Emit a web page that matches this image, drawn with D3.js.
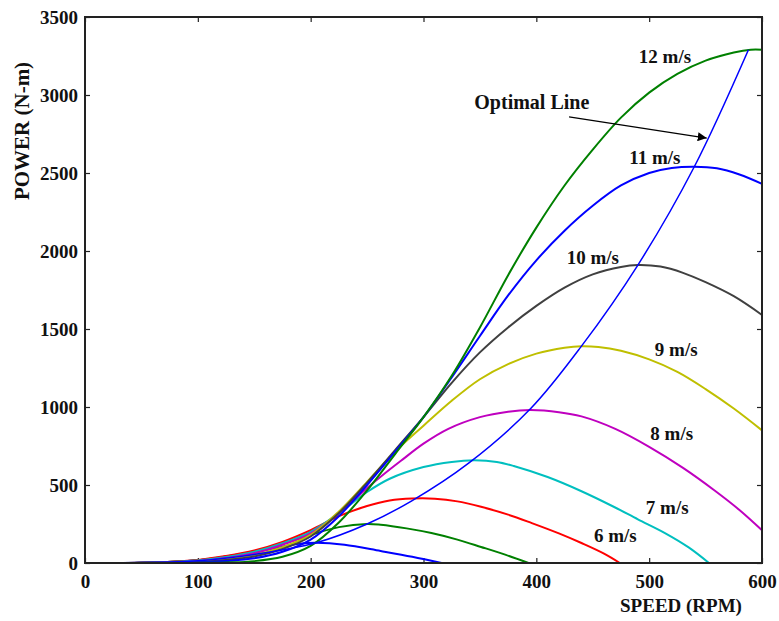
<!DOCTYPE html>
<html>
<head>
<meta charset="utf-8">
<script src="https://cdn.jsdelivr.net/npm/d3@7"></script>
<style>
  body { margin: 0; background: #fff; }
  svg text { font-family: "Liberation Serif", "Times New Roman", serif; font-weight: bold; fill: #111; }
</style>
</head>
<body>
<div id="chart"></div>
<script>
//=============================data============================
// each curve: [speed (RPM), power]
var ws4  = [[10,0],[50,2],[100,18],[125,40],[150,68],[175,105],[190,124],[205,130],[230,117],[262,77],[290,40],[316,0]];
var ws5  = [[10,0],[50,2],[100,18],[125,42],[150,74],[175,122],[200,180],[225,230],[250,250],[262,245],[285,222],[307,192],[330,150],[351,103],[373,52],[393,0]];
var ws6  = [[10,0],[50,2],[100,20],[125,45],[150,80],[175,135],[200,210],[225,300],[250,365],[270,400],[290,413],[310,412],[330,395],[351,360],[375,310],[396,256],[420,190],[440,128],[460,60],[474,0]];
var ws7  = [[10,0],[50,2],[100,16],[125,38],[150,72],[175,127],[200,200],[225,320],[250,455],[270,540],[300,615],[325,648],[345,658],[365,648],[380,622],[410,551],[440,460],[469,359],[490,280],[514,192],[535,100],[553,0]];
var ws8  = [[10,0],[50,1],[100,12],[125,32],[150,62],[175,117],[200,190],[225,320],[250,480],[265,570],[280,655],[300,765],[322,860],[350,935],[375,970],[395,980],[420,967],[440,940],[470,860],[500,745],[530,610],[558,465],[580,340],[600,210]];
var ws9  = [[10,0],[50,1],[100,10],[125,26],[150,52],[175,102],[200,180],[225,330],[250,520],[275,715],[300,880],[325,1040],[350,1178],[375,1275],[400,1342],[425,1380],[440,1390],[455,1385],[475,1360],[500,1305],[525,1225],[550,1115],[575,990],[600,850]];
var ws10 = [[10,0],[50,1],[100,7],[125,20],[150,42],[175,90],[200,170],[225,320],[250,515],[275,725],[300,935],[325,1155],[350,1350],[375,1510],[400,1648],[425,1765],[450,1850],[475,1898],[490,1910],[510,1900],[530,1860],[550,1800],[575,1710],[600,1590]];
var ws11 = [[10,0],[50,0],[100,4],[125,13],[150,30],[175,72],[200,150],[225,300],[250,500],[275,715],[300,935],[325,1190],[350,1455],[375,1715],[400,1940],[425,2130],[450,2290],[475,2420],[500,2500],[520,2532],[540,2540],[560,2530],[580,2490],[600,2430]];
var ws12 = [[10,0],[50,0],[100,1],[125,4],[150,12],[175,40],[200,110],[225,260],[250,465],[275,700],[300,935],[325,1200],[350,1510],[375,1845],[400,2150],[425,2420],[450,2650],[475,2855],[500,3015],[525,3135],[550,3220],[575,3272],[590,3290],[600,3290]];
var optimalLine = [[0,0],[100,15],[150,55],[205,130],[250,250],[290,400],[340,640],[395,990],[440,1390],[490,1910],[540,2540],[588,3290]];

var curves = [ws4, ws5, ws6, ws7, ws8, ws9, ws10, ws11, ws12];
var curveColors = ["#0000ff","#008000","#ff0000","#00bfbf","#bf00bf","#bfbf00","#404040","#0000ff","#008000"];

var xTicks = [0,100,200,300,400,500,600];
var yTicks = [0,500,1000,1500,2000,2500,3000,3500];

// curve labels: [text, speed, power]
var curveLabels = [["12 m/s",514,3250],["11 m/s",505,2603],["10 m/s",450,1962],["9 m/s",524,1372],
                   ["8 m/s",520,833],["7 m/s",516,359],["6 m/s",470,180]];

//=============================chart============================
var W = 779, H = 621;
var margin = {top: 17, right: 17, bottom: 58, left: 85};
var width = W - margin.left - margin.right,
    height = H - margin.top - margin.bottom;

var svg = d3.select("#chart").append("svg")
    .attr("width", W)
    .attr("height", H);

svg.append("defs").append("marker")
    .attr("id", "arrow")
    .attr("viewBox", "0 0 10 10")
    .attr("refX", 10).attr("refY", 5)
    .attr("markerWidth", 9).attr("markerHeight", 9)
    .attr("markerUnits", "userSpaceOnUse")
    .attr("orient", "auto")
    .append("path")
    .attr("d", "M0,0 L10,5 L0,10 z")
    .attr("fill", "#000");

var g = svg.append("g")
    .attr("transform", "translate(" + margin.left + "," + margin.top + ")");

var x = d3.scaleLinear().domain([0,600]).range([0, width]);
var y = d3.scaleLinear().domain([0,3500]).range([height, 0]);

var line = d3.line()
    .x(function(d) { return x(d[0]); })
    .y(function(d) { return y(Math.max(d[1], 0)); })
    .curve(d3.curveCatmullRom.alpha(0.5));

//axes with inward ticks on all four sides
g.append("g")
    .attr("class", "axis")
    .call(d3.axisLeft(y).tickValues(yTicks).tickSize(-5).tickPadding(7).tickFormat(d3.format("d")));

g.append("g")
    .attr("class", "axis")
    .attr("transform", "translate(0," + height + ")")
    .call(d3.axisBottom(x).tickValues(xTicks).tickSize(-5).tickPadding(12).tickFormat(d3.format("d")));

g.append("g")
    .attr("class", "axis")
    .call(d3.axisTop(x).tickValues(xTicks).tickSize(-5).tickFormat(""));

g.append("g")
    .attr("class", "axis")
    .attr("transform", "translate(" + width + ",0)")
    .call(d3.axisRight(y).tickValues(yTicks).tickSize(-5).tickFormat(""));

g.selectAll(".axis .domain").remove();
g.selectAll(".axis line").attr("stroke", "#222").attr("stroke-width", 1.2);
g.selectAll(".axis text")
    .style("font-family", "'Liberation Serif', 'Times New Roman', serif")
    .style("font-weight", "bold")
    .style("font-size", "19px")
    .attr("fill", "#111");

// power curves
g.selectAll(".power")
    .data(curves)
    .enter().append("path")
    .attr("class", "power")
    .attr("d", line)
    .attr("fill", "none")
    .attr("stroke", function(d, i) { return curveColors[i]; })
    .attr("stroke-width", 2);

// optimal line
g.append("path")
    .datum(optimalLine)
    .attr("d", line)
    .attr("fill", "none")
    .attr("stroke", "#0000ff")
    .attr("stroke-width", 1.5);

// frame
g.append("rect")
    .attr("width", width)
    .attr("height", height)
    .attr("fill", "none")
    .attr("stroke", "#222")
    .attr("stroke-width", 2);

// labels
g.selectAll(".clabel")
    .data(curveLabels)
    .enter().append("text")
    .attr("class", "clabel")
    .attr("x", function(d) { return x(d[1]); })
    .attr("y", function(d) { return y(d[2]); })
    .attr("dy", "0.35em")
    .style("text-anchor", "middle")
    .style("font-size", "19px")
    .text(function(d) { return d[0]; });

g.append("text")
    .attr("x", x(396))
    .attr("y", y(2955))
    .attr("dy", "0.35em")
    .style("text-anchor", "middle")
    .style("font-size", "20px")
    .text("Optimal Line");

g.append("line")
    .attr("x1", x(429)).attr("y1", y(2860))
    .attr("x2", x(551)).attr("y2", y(2724))
    .attr("stroke", "#000")
    .attr("stroke-width", 1.2)
    .attr("marker-end", "url(#arrow)");

// axis titles
svg.append("text")
    .attr("x", 681)
    .attr("y", 612)
    .style("text-anchor", "middle")
    .style("font-size", "19px")
    .text("SPEED (RPM)");

svg.append("text")
    .attr("transform", "translate(29,131) rotate(-90)")
    .style("text-anchor", "middle")
    .style("font-size", "21px")
    .text("POWER (N-m)");
</script>
</body>
</html>
